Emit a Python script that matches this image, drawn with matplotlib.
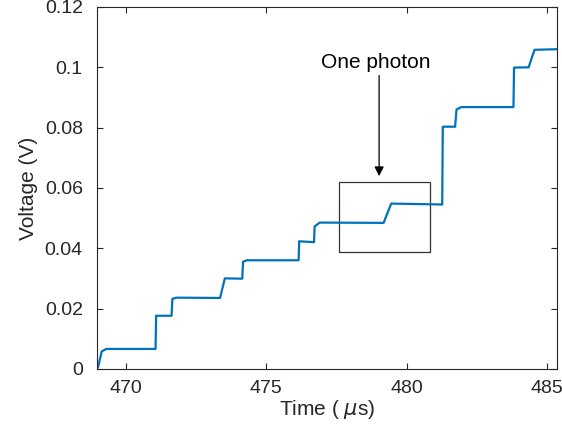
import matplotlib
matplotlib.use("Agg")
import matplotlib.pyplot as plt
from matplotlib.patches import Rectangle

plt.rcParams['font.family'] = ['Liberation Sans', 'DejaVu Sans']

# step trace (time in us, voltage in V)
time_us = [468.95, 469.00, 469.13, 469.30, 471.05, 471.07, 471.62, 471.65, 471.80,
           473.35, 473.52, 474.14, 474.17, 474.30, 476.15, 476.17, 476.70, 476.72,
           476.90, 479.18, 479.45, 481.27, 481.29, 481.73, 481.78, 481.95, 483.81,
           483.83, 484.35, 484.56, 485.36]
voltage = [0.0, 0.0005, 0.0058, 0.0066, 0.0066, 0.0176, 0.0176, 0.0232, 0.0236,
           0.0235, 0.0300, 0.0299, 0.0355, 0.0360, 0.0360, 0.0423, 0.0420, 0.0472,
           0.0485, 0.0484, 0.0548, 0.0545, 0.0803, 0.0803, 0.0860, 0.0868, 0.0868,
           0.0999, 0.1000, 0.1058, 0.1060]

xticks = [470, 475, 480, 485]
yticks = [0, 0.02, 0.04, 0.06, 0.08, 0.1, 0.12]
ytick_labels = ['0', '0.02', '0.04', '0.06', '0.08', '0.1', '0.12']

box_t = (477.59, 480.84)   # rectangle x range
box_v = (0.0386, 0.0621)   # rectangle y range
label_xy = (478.9, 0.1016)
arrow_from = (479.02, 0.0973)
arrow_to = (479.02, 0.0639)

fig = plt.figure(figsize=(5.62, 4.37), dpi=100)
ax = fig.add_axes([0.172, 0.156, 0.819, 0.828])

ax.plot(time_us, voltage, color='#0072BD', linewidth=1.6)

ax.add_patch(Rectangle((box_t[0], box_v[0]), box_t[1] - box_t[0], box_v[1] - box_v[0],
                       fill=False, edgecolor='#333333', linewidth=0.9))
ax.annotate('', xy=arrow_to, xytext=arrow_from,
            arrowprops=dict(arrowstyle='-|>', color='black', lw=0.9,
                            mutation_scale=14, shrinkA=0, shrinkB=0))
ax.text(label_xy[0], label_xy[1], 'One photon', ha='center', va='center', fontsize=15)

ax.set_xlim(468.95, 485.36)
ax.set_ylim(0, 0.12)
ax.set_xticks(xticks)
ax.set_yticks(yticks)
ax.set_yticklabels(ytick_labels)
ax.tick_params(direction='in', top=True, right=True, length=4, width=0.8,
               labelsize=14, colors='#262626')
ax.tick_params(axis='y', pad=10)
ax.tick_params(axis='x', pad=8)
for s in ax.spines.values():
    s.set_color('#262626')
    s.set_linewidth(0.8)
ax.set_xlabel('Time ( $\\mu$s)', fontsize=15, color='#262626', labelpad=1)
ax.set_ylabel('Voltage (V)', fontsize=15, color='#262626', labelpad=5)

fig.savefig('out.png', dpi=100)
